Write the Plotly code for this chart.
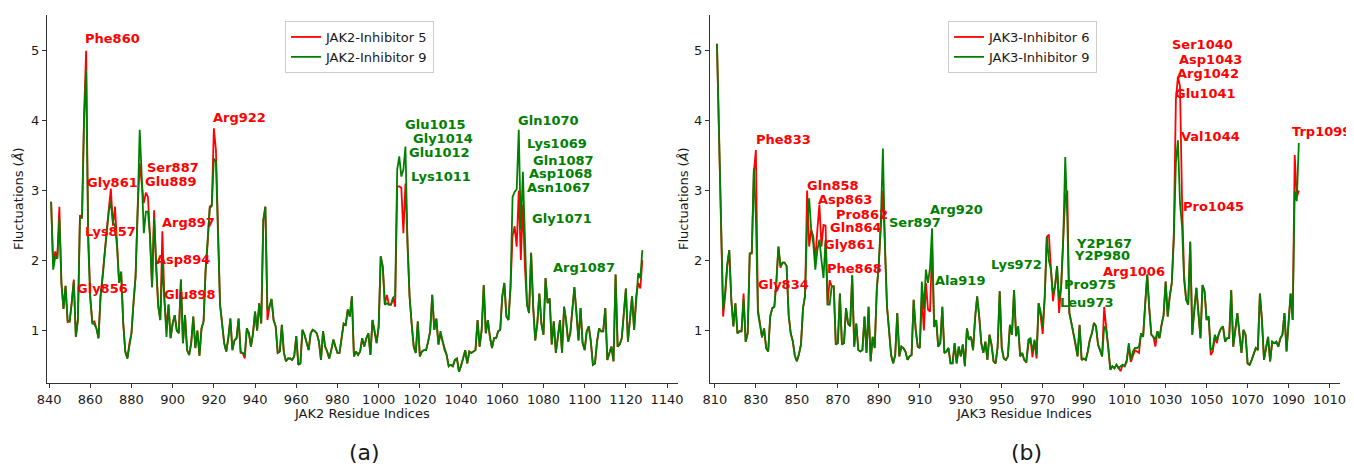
import plotly.graph_objects as go

# ---------------- JAK2 panel (a) ----------------
jak2_start = 841
jak2_inhib5 = [
    2.84, 1.95, 2.13, 2.03, 2.77, 1.68, 1.31, 1.64, 1.12, 1.13,
    1.40, 1.73, 0.91, 1.15, 2.65, 2.60, 4.10, 5.00, 2.40, 1.49,
    1.12, 1.13, 1.03, 0.89, 1.49, 1.77, 2.10, 2.44, 2.77, 3.03,
    2.50, 2.77, 2.25, 1.68, 1.84, 1.11, 0.70, 0.60, 0.82, 0.96,
    1.40, 1.77, 2.72, 3.39, 3.10, 2.82, 2.97, 2.91, 2.35, 1.62,
    2.72, 1.87, 1.35, 1.15, 2.42, 1.44, 1.03, 1.37, 0.89, 1.10,
    1.22, 1.00, 0.96, 1.73, 0.82, 1.22, 0.72, 0.65, 0.82, 1.20,
    0.75, 1.00, 0.64, 1.03, 1.13, 1.87, 2.25, 2.77, 2.80, 3.89,
    3.58, 2.63, 1.39, 1.10, 0.82, 0.70, 0.89, 1.17, 0.72, 0.86,
    0.89, 1.17, 0.68, 0.68, 0.60, 1.03, 0.96, 0.77, 0.96, 1.27,
    1.00, 1.39, 1.10, 2.58, 2.77, 1.15, 1.34, 1.45, 1.15, 1.06,
    0.68, 0.70, 1.08, 0.68, 0.56, 0.60, 0.60, 0.58, 0.63, 0.92,
    0.51, 0.53, 1.01, 0.94, 0.82, 0.72, 0.96, 1.01, 0.99, 0.96,
    0.84, 0.58, 0.99, 0.77, 0.70, 0.60, 0.72, 0.87, 0.77, 0.68,
    0.68, 0.87, 1.10, 1.08, 1.30, 1.20, 1.49, 0.63, 0.70, 0.65,
    0.70, 0.89, 0.77, 0.89, 0.96, 0.65, 1.15, 0.99, 0.82, 1.06,
    2.06, 1.91, 1.37, 1.51, 1.37, 1.37, 1.47, 1.34, 3.06, 3.06,
    3.04, 2.39, 3.10, 2.25, 1.49, 1.10, 0.77, 0.68, 1.13, 0.63,
    0.70, 0.72, 0.72, 0.84, 0.99, 1.51, 1.01, 1.17, 0.80, 0.95,
    0.84, 0.72, 0.65, 0.49, 0.51, 0.49, 0.58, 0.60, 0.41, 0.49,
    0.60, 0.72, 0.53, 0.70, 0.68, 0.70, 0.72, 1.15, 0.77, 1.01,
    1.65, 0.96, 1.15, 0.91, 0.75, 0.89, 0.89, 0.99, 1.01, 1.49,
    1.68, 1.20, 1.15, 1.62, 2.35, 2.49, 2.20, 3.00, 2.01, 2.80,
    1.90, 1.37, 1.25, 2.11, 1.34, 0.86, 1.10, 1.53, 1.10, 0.94,
    1.75, 1.39, 1.46, 0.80, 1.13, 0.68, 0.91, 1.15, 0.68, 1.34,
    1.13, 0.84, 0.96, 1.30, 1.62, 1.25, 0.86, 1.32, 0.82, 0.72,
    0.99, 1.06, 0.84, 0.51, 0.53, 0.84, 1.03, 0.99, 0.99, 1.32,
    0.58, 0.68, 0.77, 0.56, 1.80, 0.77, 0.80, 0.89, 1.30, 1.60,
    0.84, 1.20, 1.49, 1.01, 1.49, 1.68, 1.60, 2.01,
]
jak2_inhib9 = [
    2.84, 1.87, 2.05, 2.03, 2.60, 1.68, 1.31, 1.64, 1.15, 1.13,
    1.40, 1.70, 0.91, 1.15, 2.60, 2.62, 4.00, 4.72, 2.25, 1.45,
    1.10, 1.09, 1.03, 0.89, 1.50, 1.75, 2.10, 2.44, 2.70, 2.84,
    2.55, 2.50, 2.20, 1.68, 1.84, 1.11, 0.70, 0.60, 0.82, 0.96,
    1.40, 1.77, 2.72, 3.87, 3.20, 2.39, 2.70, 2.70, 2.35, 1.62,
    2.60, 1.87, 1.35, 1.15, 1.96, 1.44, 0.91, 1.37, 0.89, 1.10,
    1.22, 1.00, 0.96, 1.73, 0.82, 1.22, 0.72, 0.65, 0.82, 1.20,
    0.75, 1.00, 0.64, 1.03, 1.13, 1.87, 2.25, 2.75, 2.78, 3.46,
    3.41, 2.50, 1.35, 1.10, 0.82, 0.70, 0.89, 1.17, 0.72, 0.86,
    0.89, 1.17, 0.70, 0.68, 0.65, 1.03, 0.96, 0.77, 0.96, 1.27,
    1.00, 1.39, 1.10, 2.58, 2.77, 1.30, 1.34, 1.45, 1.15, 1.06,
    0.68, 0.70, 1.08, 0.68, 0.56, 0.60, 0.60, 0.58, 0.63, 0.92,
    0.51, 0.53, 1.01, 0.94, 0.82, 0.72, 0.96, 1.01, 0.99, 0.96,
    0.84, 0.58, 0.99, 0.77, 0.70, 0.60, 0.72, 0.87, 0.77, 0.68,
    0.68, 0.87, 1.10, 1.08, 1.30, 1.20, 1.49, 0.63, 0.70, 0.65,
    0.70, 0.89, 0.77, 0.89, 0.96, 0.65, 1.15, 0.99, 0.82, 1.06,
    2.06, 1.91, 1.37, 1.39, 1.37, 1.37, 1.47, 1.50, 3.30, 3.49,
    3.20, 3.30, 3.63, 2.25, 1.49, 1.10, 0.77, 0.68, 1.13, 0.63,
    0.70, 0.72, 0.72, 0.84, 0.99, 1.51, 1.01, 1.17, 0.80, 0.99,
    0.84, 0.72, 0.65, 0.49, 0.51, 0.49, 0.58, 0.60, 0.41, 0.49,
    0.60, 0.72, 0.53, 0.70, 0.68, 0.70, 0.72, 1.15, 0.77, 1.01,
    1.65, 0.96, 1.15, 0.91, 0.75, 0.89, 0.89, 0.99, 1.01, 1.49,
    1.68, 1.20, 1.15, 1.62, 2.91, 2.98, 3.02, 3.87, 2.44, 3.27,
    2.30, 1.37, 1.25, 2.11, 1.34, 0.86, 1.10, 1.53, 1.10, 0.94,
    1.75, 1.39, 1.46, 0.80, 1.13, 0.68, 0.91, 1.15, 0.68, 1.34,
    1.13, 0.84, 0.96, 1.30, 1.62, 1.25, 0.86, 1.32, 0.82, 0.72,
    0.99, 1.06, 0.84, 0.51, 0.53, 0.84, 1.03, 0.99, 0.99, 1.32,
    0.58, 0.68, 0.77, 0.56, 1.80, 0.77, 0.80, 0.89, 1.30, 1.60,
    0.84, 1.20, 1.49, 1.01, 1.49, 1.82, 1.75, 2.15,
]
jak2_residues = list(range(jak2_start, jak2_start + len(jak2_inhib5)))

jak2_labels = ["Phe860", "Gly861", "Ser887", "Glu889", "Arg922", "Arg897", "Lys857",
               "Asp894", "Gly856", "Glu898",
               "Glu1015", "Gly1014", "Glu1012", "Lys1011", "Gln1070", "Lys1069",
               "Gln1087", "Asp1068", "Asn1067", "Gly1071", "Arg1087"]
jak2_label_x = [870.8, 870.8, 900.2, 899.1, 932.6, 907.5, 870.0, 905.0, 866.0, 908.2,
                1027.5, 1031.3, 1029.6, 1030.4, 1082.6, 1086.5, 1089.7, 1088.4, 1087.2,
                1088.9, 1099.9]
jak2_label_y = [5.17, 3.11, 3.33, 3.13, 4.04, 2.55, 2.41, 2.02, 1.60, 1.52,
                3.94, 3.74, 3.54, 3.20, 4.00, 3.68, 3.43, 3.24, 3.05, 2.60, 1.90]
jak2_label_colors = ["red"] * 10 + ["green"] * 11

# ---------------- JAK3 panel (b) ----------------
jak3_start = 811
jak3_inhib6 = [
    5.10, 3.80, 2.40, 1.20, 1.50, 1.90, 2.15, 1.44, 1.06, 1.39,
    0.96, 0.99, 0.99, 1.53, 0.84, 0.96, 2.10, 2.10, 3.25, 3.58,
    1.30, 1.10, 0.90, 1.03, 0.75, 0.70, 1.20, 1.32, 1.34, 1.70,
    2.20, 1.90, 1.97, 1.97, 1.92, 1.22, 0.96, 0.85, 0.64, 0.56,
    0.66, 0.80, 1.32, 1.50, 3.00, 2.20, 2.44, 2.35, 2.00, 2.44,
    2.80, 2.20, 2.51, 2.50, 1.37, 1.72, 1.63, 1.63, 0.80, 0.82,
    1.53, 0.80, 0.82, 1.32, 1.10, 1.06, 1.79, 0.77, 1.10, 0.72,
    0.70, 0.72, 1.20, 0.68, 1.34, 0.56, 0.91, 0.75, 1.58, 1.96,
    2.58, 3.00, 2.20, 1.34, 1.01, 0.65, 0.53, 0.65, 1.25, 0.63,
    0.77, 0.75, 0.70, 0.58, 0.63, 0.65, 1.44, 1.01, 0.77, 0.75,
    1.48, 1.00, 1.68, 1.30, 1.27, 2.20, 1.05, 1.15, 0.77, 0.82,
    1.34, 0.68, 0.70, 0.75, 0.53, 0.53, 0.82, 0.53, 0.77, 0.63,
    0.80, 0.49, 1.03, 0.87, 0.91, 0.72, 1.18, 1.49, 1.20, 0.82,
    0.68, 0.84, 0.58, 0.94, 0.80, 0.56, 0.53, 0.77, 1.56, 0.75,
    0.60, 0.58, 0.63, 1.08, 0.94, 1.58, 0.92, 1.06, 0.63, 0.68,
    0.58, 0.54, 0.80, 0.89, 0.62, 0.85, 0.60, 1.39, 1.20, 0.95,
    1.49, 2.34, 2.37, 1.87, 1.42, 1.63, 1.92, 1.25, 1.63, 2.30,
    2.90, 3.00, 1.25, 1.11, 0.96, 0.82, 0.63, 1.08, 0.58, 0.60,
    0.58, 0.70, 0.87, 0.96, 1.11, 1.06, 0.80, 0.72, 0.63, 1.34,
    1.01, 0.77, 0.44, 0.49, 0.46, 0.51, 0.46, 0.42, 0.51, 0.49,
    0.55, 0.78, 0.55, 0.65, 0.72, 0.70, 0.68, 0.96, 0.91, 1.37,
    1.80, 1.32, 0.94, 0.91, 0.77, 0.99, 0.89, 1.08, 1.22, 1.70,
    1.20, 1.49, 1.68, 2.40, 4.30, 4.63, 4.49, 2.87, 1.80, 1.44,
    1.37, 2.27, 0.94, 1.30, 1.61, 1.25, 0.89, 1.65, 1.56, 1.15,
    1.20, 0.65, 0.70, 0.90, 0.82, 0.96, 1.03, 1.06, 0.84, 0.89,
    0.89, 1.58, 0.77, 1.01, 1.25, 0.96, 0.68, 1.01, 0.94, 0.53,
    0.51, 0.58, 0.68, 0.75, 0.72, 1.53, 1.15, 0.58, 0.75, 0.91,
    0.56, 0.84, 0.82, 0.84, 0.77, 0.89, 0.94, 1.25, 0.70, 1.06,
    1.53, 1.15, 3.51, 2.90, 3.00,
]
jak3_inhib9 = [
    5.10, 3.80, 2.40, 1.30, 1.55, 1.95, 2.15, 1.44, 1.06, 1.39,
    0.96, 0.99, 0.99, 1.45, 0.84, 0.96, 2.10, 2.12, 3.32, 2.60,
    1.25, 1.10, 0.91, 1.03, 0.75, 0.70, 1.20, 1.32, 1.34, 1.70,
    2.20, 1.92, 1.97, 1.97, 1.92, 1.22, 0.96, 0.85, 0.64, 0.56,
    0.66, 0.80, 1.32, 1.50, 2.50, 2.89, 2.44, 2.25, 1.87, 2.15,
    2.30, 2.01, 1.75, 2.30, 1.37, 1.37, 1.63, 1.63, 0.80, 0.82,
    1.53, 0.80, 0.82, 1.32, 1.10, 1.06, 1.79, 0.77, 1.10, 0.72,
    0.70, 0.72, 1.20, 0.68, 1.34, 0.56, 0.91, 0.75, 1.58, 1.96,
    2.58, 3.60, 2.20, 1.34, 1.01, 0.65, 0.53, 0.65, 1.25, 0.63,
    0.77, 0.75, 0.70, 0.58, 0.63, 0.65, 1.44, 1.01, 0.77, 0.75,
    1.70, 1.30, 1.87, 1.68, 1.90, 2.46, 1.05, 1.15, 0.77, 0.82,
    1.34, 0.68, 0.70, 0.75, 0.53, 0.53, 0.82, 0.53, 0.77, 0.63,
    0.80, 0.49, 1.03, 0.87, 0.91, 0.72, 1.18, 1.49, 1.20, 0.82,
    0.68, 0.84, 0.58, 0.94, 0.80, 0.56, 0.53, 0.77, 1.56, 0.75,
    0.60, 0.58, 0.63, 1.08, 0.94, 1.58, 0.92, 1.06, 0.63, 0.68,
    0.58, 0.56, 0.87, 0.89, 0.70, 0.87, 0.65, 1.39, 1.27, 1.06,
    1.49, 2.34, 2.00, 1.87, 1.53, 1.63, 1.92, 1.44, 1.63, 2.30,
    3.48, 2.60, 1.25, 1.11, 0.96, 0.82, 0.63, 1.08, 0.58, 0.60,
    0.58, 0.70, 0.87, 0.96, 1.11, 1.06, 0.80, 0.72, 0.63, 1.06,
    1.01, 0.77, 0.44, 0.49, 0.46, 0.51, 0.46, 0.49, 0.51, 0.49,
    0.58, 0.82, 0.58, 0.70, 0.75, 0.75, 0.77, 0.96, 0.91, 1.37,
    1.80, 1.32, 0.94, 0.91, 0.87, 0.99, 0.89, 1.08, 1.22, 1.70,
    1.20, 1.49, 1.68, 2.30, 3.40, 3.72, 2.82, 2.49, 1.72, 1.44,
    1.37, 2.27, 0.94, 1.30, 1.61, 1.25, 0.89, 1.65, 1.56, 1.15,
    1.20, 0.72, 0.75, 0.94, 0.87, 0.96, 1.03, 1.06, 0.84, 0.89,
    0.89, 1.58, 0.77, 1.01, 1.25, 0.96, 0.68, 1.01, 0.94, 0.53,
    0.51, 0.58, 0.68, 0.75, 0.72, 1.53, 1.15, 0.58, 0.75, 0.91,
    0.56, 0.84, 0.82, 0.84, 0.77, 0.89, 0.94, 1.25, 0.70, 1.06,
    1.53, 1.15, 2.99, 2.85, 3.68,
]
jak3_residues = list(range(jak3_start, jak3_start + len(jak3_inhib6)))

jak3_labels = ["Phe833", "Gln858", "Asp863", "Pro862", "Gln864", "Gly861", "Phe868",
               "Gly834", "Arg1006", "Ser1040", "Asp1043", "Arg1042", "Glu1041",
               "Val1044", "Pro1045", "Trp1099",
               "Ser897", "Arg920", "Ala919", "Lys972", "Y2P167", "Y2P980",
               "Pro975", "Leu973"]
jak3_label_x = [843.7, 867.7, 873.4, 881.8, 878.7, 875.5, 878.3, 843.5, 1014.5,
                1048.2, 1051.8, 1050.5, 1049.3, 1051.9, 1053.3, 1105.9,
                907.7, 928.1, 929.6, 957.3, 999.7, 998.7, 993.0, 991.6]
jak3_label_y = [3.73, 3.08, 2.88, 2.66, 2.47, 2.23, 1.89, 1.66, 1.84,
                5.09, 4.88, 4.68, 4.39, 3.77, 2.78, 3.85,
                2.55, 2.73, 1.71, 1.95, 2.25, 2.07, 1.66, 1.40]
jak3_label_colors = ["red"] * 16 + ["green"] * 8

jak2_ticks = list(range(840, 1141, 20))
jak3_tickvals = list(range(810, 1111, 20))
jak3_ticktext = ["810", "830", "850", "870", "890", "910", "930", "950", "970", "990",
                 "1010", "1030", "1050", "1070", "1090", "1010"]

RED = "#ff0000"
GREEN = "#008000"
FONT = "DejaVu Sans"
AX = "#333333"

fig = go.Figure()
fig.add_trace(go.Scatter(x=jak2_residues, y=jak2_inhib5, mode="lines", name="JAK2-Inhibitor 5",
                         line=dict(color=RED, width=1.8), xaxis="x", yaxis="y", legend="legend"))
fig.add_trace(go.Scatter(x=jak2_residues, y=jak2_inhib9, mode="lines", name="JAK2-Inhibitor 9",
                         line=dict(color=GREEN, width=1.8), xaxis="x", yaxis="y", legend="legend"))
fig.add_trace(go.Scatter(x=jak3_residues, y=jak3_inhib6, mode="lines", name="JAK3-Inhibitor 6",
                         line=dict(color=RED, width=1.8), xaxis="x2", yaxis="y2", legend="legend2"))
fig.add_trace(go.Scatter(x=jak3_residues, y=jak3_inhib9, mode="lines", name="JAK3-Inhibitor 9",
                         line=dict(color=GREEN, width=1.8), xaxis="x2", yaxis="y2", legend="legend2"))

annotations = []
for t, x, y, c in zip(jak2_labels, jak2_label_x, jak2_label_y, jak2_label_colors):
    annotations.append(dict(text="<b>%s</b>" % t, x=x, y=y, xref="x", yref="y", showarrow=False,
                            font=dict(family=FONT, size=13, color=c), xanchor="center", yanchor="middle"))
for t, x, y, c in zip(jak3_labels, jak3_label_x, jak3_label_y, jak3_label_colors):
    annotations.append(dict(text="<b>%s</b>" % t, x=x, y=y, xref="x2", yref="y2", showarrow=False,
                            font=dict(family=FONT, size=13, color=c), xanchor="center", yanchor="middle"))

# The page body has an 8px margin, so the figure is drawn 8px in from the window's corner.
PAGE = 8
W, H = 1354 - PAGE, 467 - PAGE
PLOT_L, PLOT_R, PLOT_T, PLOT_B = 47, 1340, 15, 383   # window pixels of the plotting area
ML, MR, MT, MB = PLOT_L - PAGE, W - (PLOT_R - PAGE), PLOT_T - PAGE, H - (PLOT_B - PAGE)
PW = W - ML - MR
PH = H - MT - MB


def px_x(p):
    return (p - PLOT_L) / PW


def px_y(p):
    return (PLOT_B - p) / PH


# axis titles and panel tags
for text, x, y, ang, size in [
    ("JAK2 Residue Indices", 362, 413, 0, 13),
    ("JAK3 Residue Indices", 1024, 413, 0, 13),
    ("Fluctuations (<i>Å</i>)", 18, 199, -90, 13),
    ("Fluctuations (<i>Å</i>)", 683, 199, -90, 13),
    ("(a)", 364, 452, 0, 22),
    ("(b)", 1026, 452, 0, 22),
]:
    annotations.append(dict(text=text, x=px_x(x), y=px_y(y), xref="paper", yref="paper",
                            showarrow=False, textangle=ang, xanchor="center", yanchor="middle",
                            font=dict(family=FONT, size=size, color="#1a1a1a")))

axis_common = dict(showline=True, linecolor=AX, linewidth=1.2, ticks="outside", ticklen=4,
                   tickcolor=AX, tickwidth=1, showgrid=False, zeroline=False, mirror=False,
                   tickfont=dict(family=FONT, size=13, color="#1a1a1a"))

legend_common = dict(bgcolor="white", bordercolor="#cccccc", borderwidth=1,
                     font=dict(family=FONT, size=13, color="#1a1a1a"),
                     xanchor="left", yanchor="top", tracegroupgap=0)

fig.update_layout(
    width=W, height=H,
    margin=dict(l=ML, r=MR, t=MT, b=MB),
    paper_bgcolor="white", plot_bgcolor="white",
    showlegend=True,
    xaxis=dict(domain=[0, px_x(678)], range=[839, 1145.3], tickvals=jak2_ticks, anchor="y",
               **axis_common),
    yaxis=dict(domain=[0, 1], range=[0.25, 5.51], tickvals=[1, 2, 3, 4, 5], anchor="x",
               **axis_common),
    xaxis2=dict(domain=[px_x(710), 1], range=[807.6, 1115.1], tickvals=jak3_tickvals,
                ticktext=jak3_ticktext, anchor="y2", **axis_common),
    yaxis2=dict(domain=[0, 1], range=[0.25, 5.51], tickvals=[1, 2, 3, 4, 5], anchor="x2",
                **axis_common),
    legend=dict(x=px_x(285), y=px_y(21), **legend_common),
    legend2=dict(x=px_x(948), y=px_y(21), **legend_common),
    annotations=annotations,
)

fig.write_html("out.html")
